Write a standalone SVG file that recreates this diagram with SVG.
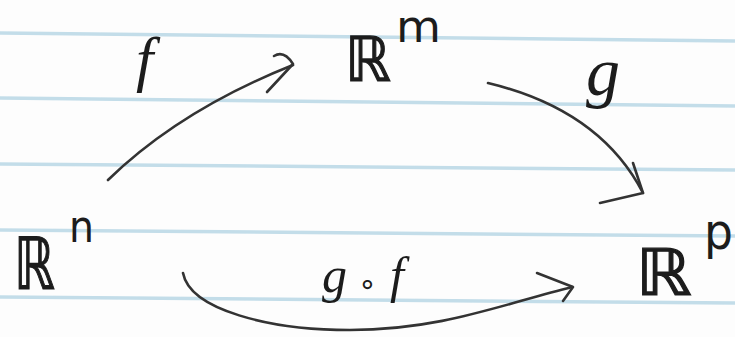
<svg xmlns="http://www.w3.org/2000/svg" width="735" height="337" viewBox="0 0 735 337">
<style>
.rule{stroke:#c3dde9;stroke-width:3.5;fill:none}
.ink{stroke:#333;stroke-width:2.6;fill:none;stroke-linecap:round;stroke-linejoin:round}
.R{font-family:"DejaVu Sans",sans-serif;fill:#1c1c1c;stroke:#1c1c1c;stroke-width:1.2}
.sup{font-family:"DejaVu Sans",sans-serif;fill:#1c1c1c}
.lbl{font-family:"Liberation Serif",serif;font-style:italic;fill:#1c1c1c}
</style>
<rect width="735" height="337" fill="#fdfdfd"/>
<g id="paper">
<line class="rule" x1="0" y1="33" x2="735" y2="41"/>
<line class="rule" x1="0" y1="98" x2="735" y2="106"/>
<line class="rule" x1="0" y1="164" x2="735" y2="170"/>
<line class="rule" x1="0" y1="230" x2="735" y2="236"/>
<line class="rule" x1="0" y1="297" x2="735" y2="303"/>
</g>
<g id="connectors">
<g id="edge-f">
<path class="ink" d="M108,180 Q180,110 293,65"/>
<path class="ink" d="M274,56 Q284,50 293,64 L267,92"/>
</g>
<g id="edge-g">
<path class="ink" d="M488,83 Q600,110 643,193"/>
<path class="ink" d="M633,163 L643,193 L600,203"/>
</g>
<g id="edge-gf">
<path class="ink" d="M183,273 C190,310 270,330 350,330 C440,330 500,305 572,287"/>
<path class="ink" d="M537,273 L573,287 L563,301"/>
</g>
<text class="lbl" x="136" y="80" font-size="62">f</text>
<text class="lbl" x="586" y="95" font-size="68">g</text>
<text class="lbl" y="292" font-size="50"><tspan x="322">g</tspan><tspan x="358" font-size="30" y="294" font-style="normal" font-family="DejaVu Sans, sans-serif">∘</tspan><tspan x="390" y="292">f</tspan></text>
</g>
<g id="node-Rn">
<text class="R" x="14" y="289" font-size="72" textLength="41" lengthAdjust="spacingAndGlyphs">ℝ</text>
<text class="sup" x="69" y="242" font-size="44" textLength="25" lengthAdjust="spacingAndGlyphs">n</text>
</g>
<g id="node-Rm">
<text class="R" x="345" y="81" font-size="62" textLength="46" lengthAdjust="spacingAndGlyphs">ℝ</text>
<text class="sup" x="396" y="42" font-size="44" textLength="45" lengthAdjust="spacingAndGlyphs">m</text>
</g>
<g id="node-Rp">
<text class="R" x="636" y="295" font-size="64" textLength="56" lengthAdjust="spacingAndGlyphs">ℝ</text>
<text class="sup" x="704" y="249" font-size="50" textLength="29" lengthAdjust="spacingAndGlyphs">p</text>
</g>
</svg>
